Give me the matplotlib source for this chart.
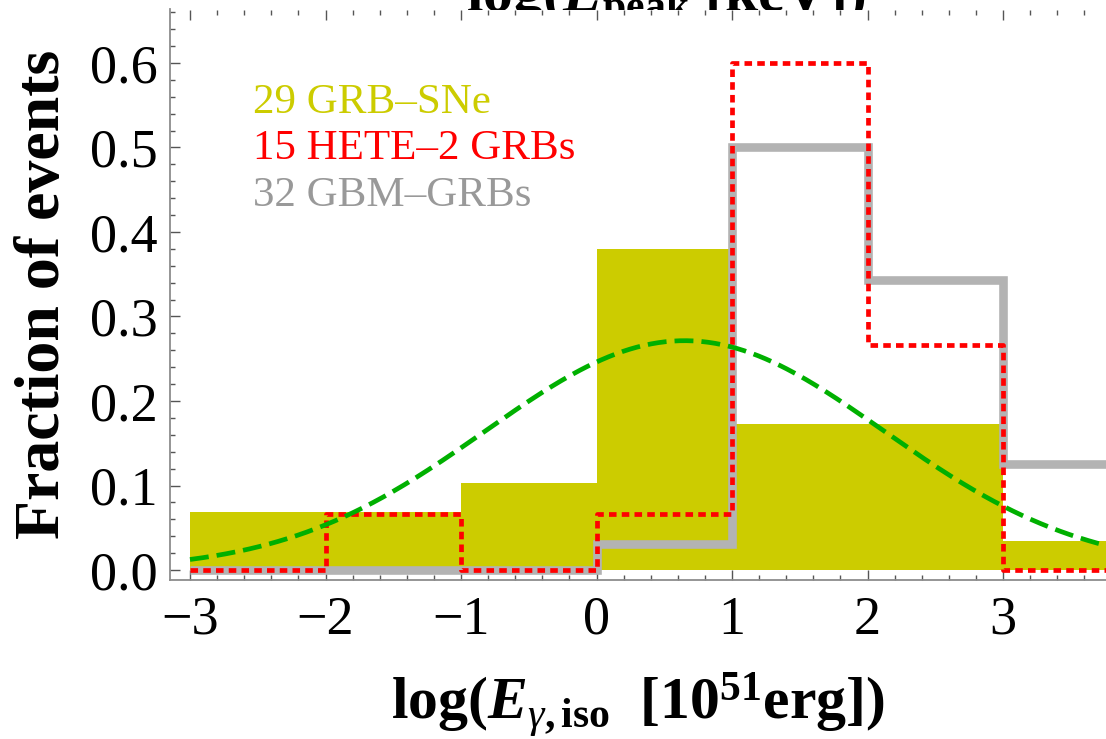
import numpy as np
import matplotlib
matplotlib.use("Agg")
import matplotlib.pyplot as plt
from matplotlib.ticker import MultipleLocator, FormatStrFormatter

plt.rcParams["font.family"] = ["Liberation Serif", "DejaVu Serif"]
plt.rcParams["mathtext.fontset"] = "custom"
plt.rcParams["mathtext.rm"] = "Liberation Serif"
plt.rcParams["mathtext.it"] = "Liberation Serif:italic"
plt.rcParams["mathtext.bf"] = "Liberation Serif:bold"
plt.rcParams["mathtext.bfit"] = "Liberation Serif:bold:italic"
plt.rcParams["axes.unicode_minus"] = True

# Histogram bins in log(E_gamma,iso / 1e51 erg)
bin_edges = [-3, -2, -1, 0, 1, 2, 3, 4]

# Fraction of events per bin
grb_sne = [2/29, 2/29, 3/29, 11/29, 5/29, 5/29, 1/29]
hete2 = [0, 1/15, 0, 1/15, 9/15, 4/15, 0]
gbm = [0, 0, 0, 1/32, 16/32, 11/32, 4/32]

# Gaussian fit to the GRB-SNe distribution
fit_mean = 0.65
fit_sigma = 1.47

labels = ["29 GRB\u2013SNe", "15 HETE\u20132 GRBs", "32 GBM\u2013GRBs"]
label_colors = ["#cccc00", "#ff0000", "#999999"]

W, H = 1106, 739
fig = plt.figure(figsize=(W / 100, H / 100), dpi=100)
ax = fig.add_axes([170 / W, 1 - 580 / H, 1 - 170 / W, (580 - 9.5) / H])

edges = np.array(bin_edges, dtype=float)
widths = np.diff(edges)

# filled GRB-SNe histogram
ax.bar(edges[:-1], grb_sne, width=widths, align="edge", color="#cccc00",
       linewidth=0, zorder=1)


def step_xy(vals):
    xs = np.repeat(edges, 2)[1:-1]
    ys = np.repeat(vals, 2)
    return xs, ys


xs, ys = step_xy(gbm)
ax.plot(xs, ys, color="#b3b3b3", lw=6.2, solid_joinstyle="miter",
        solid_capstyle="butt", zorder=2)

xs, ys = step_xy(hete2)
ax.plot(xs, ys, color="#ff0000", lw=3.4, linestyle=(0, (1.6, 1.1)),
        dash_joinstyle="round", dash_capstyle="butt", zorder=3)

xg = np.linspace(-3, 4, 400)
yg = np.exp(-0.5 * ((xg - fit_mean) / fit_sigma) ** 2) / (fit_sigma * np.sqrt(2 * np.pi))
ax.plot(xg, yg, color="#00b000", lw=3.4, linestyle=(0, (4.0, 1.7)), zorder=4)

ax.set_xlim(-3 - 20 / 135.6, 3 + 103 / 135.6)
ax.set_ylim(-10 / 845, (570 - 9.5) / 845)

for side in ("top", "right"):
    ax.spines[side].set_visible(False)
for side in ("left", "bottom"):
    ax.spines[side].set_color("#8c8c8c")
    ax.spines[side].set_linewidth(1.3)

ax.xaxis.set_major_locator(MultipleLocator(1))
ax.xaxis.set_minor_locator(MultipleLocator(0.2))
ax.yaxis.set_major_locator(MultipleLocator(0.1))
ax.yaxis.set_minor_locator(MultipleLocator(0.02))
ax.yaxis.set_major_formatter(FormatStrFormatter("%.1f"))
ax.tick_params(which="both", direction="in", color="#555555", width=1.0,
               labelsize=39, labelcolor="black")
ax.tick_params(which="major", length=7)
ax.tick_params(which="minor", length=3.5)
ax.tick_params(axis="x", which="major", pad=11)
ax.tick_params(axis="y", which="major", pad=9)

# top axis ticks (no labels)
ax.tick_params(top=True, which="both")

ax.set_xlabel(r"$\mathbf{log(}\mathbfit{E}_{\gamma\mathbf{,iso}}\ \ \mathbf{[10^{51}erg])}$",
              fontsize=43, labelpad=18)
ax.set_ylabel("Fraction of events", fontsize=46, fontweight="bold", labelpad=12)

# label of the upper axis, partly hidden behind the plot area
fig.text(666 / W, 1 - 12 / H,
         r"$\mathbf{log(}\mathbfit{E}_{\mathbf{peak}}\ \mathbf{[keV])}$",
         fontsize=43, ha="center", va="baseline", zorder=-1)

for i, (txt, col) in enumerate(zip(labels, label_colors)):
    fig.text(253 / W, 1 - (112.7 + 46.5 * i) / H, txt, color=col,
             fontsize=31, ha="left", va="baseline")

fig.savefig("out.png", dpi=100)
